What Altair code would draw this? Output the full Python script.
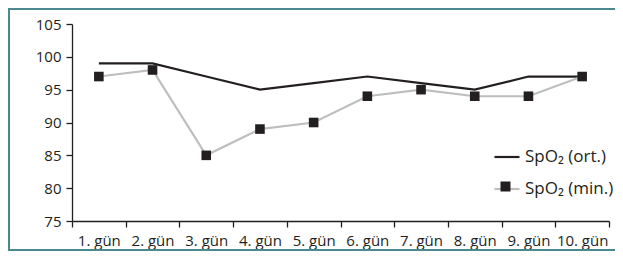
import altair as alt
import pandas as pd

days = ["1. gün", "2. gün", "3. gün", "4. gün", "5. gün",
        "6. gün", "7. gün", "8. gün", "9. gün", "10. gün"]
spo2_ort = [99, 99, 97, 95, 96, 97, 96, 95, 97, 97]
spo2_min = [97, 98, 85, 89, 90, 94, 95, 94, 94, 97]
series_names = ["SpO₂ (ort.)", "SpO₂ (min.)"]
y_ticks = [75, 80, 85, 90, 95, 100, 105]

rows = []
for d, v in zip(days, spo2_ort):
    rows.append({"day": d, "value": v, "series": series_names[0]})
for d, v in zip(days, spo2_min):
    rows.append({"day": d, "value": v, "series": series_names[1]})
df = pd.DataFrame(rows)
df["series_marker"] = df["series"]

FONT = "Open Sans"
DARK = "#231f20"
GREY = "#bcbec0"

x_enc = alt.X("day:N", sort=days, bandPosition=0.5,
              scale=alt.Scale(type="band", paddingInner=0, paddingOuter=0),
              axis=alt.Axis(title=None, tickBand="extent", labelAngle=0,
                            grid=False, tickSize=6, labelPadding=6,
                            domainColor=DARK, tickColor=DARK, domainWidth=1.3, tickWidth=1.3))
y_enc = alt.Y("value:Q", scale=alt.Scale(domain=[75, 105], nice=False, zero=False),
              axis=alt.Axis(title=None, values=y_ticks, grid=False, tickSize=6,
                            labelPadding=5, domainColor=DARK, tickColor=DARK,
                            domainWidth=1.3, tickWidth=1.3))

base = alt.Chart(df)

line_ort = base.transform_filter(alt.datum.series == series_names[0]).mark_line(
    strokeWidth=2.2, color=DARK).encode(x=x_enc, y=y_enc)
line_min = base.transform_filter(alt.datum.series == series_names[1]).mark_line(
    strokeWidth=2.2, color=GREY).encode(x=x_enc, y=y_enc)

squares = base.transform_filter(
    alt.datum.series == series_names[1]
).mark_point(shape="square", filled=True, color=DARK, size=92, opacity=1).encode(
    x=x_enc, y=y_enc,
)

LX, LY = 421, 119
common = dict(title=None, orient="none", legendX=LX, legendY=LY,
              symbolSize=625, symbolOpacity=1,
              labelFontSize=17, labelFont=FONT, labelColor=DARK,
              labelOffset=4, rowPadding=10)

# legend A: line strokes with labels
legend_lines = base.mark_point(filled=False, opacity=0).encode(
    x=x_enc, y=y_enc,
    stroke=alt.Stroke("series:N", scale=alt.Scale(domain=series_names, range=[DARK, GREY]),
                      legend=alt.Legend(symbolType="M-1,0H1", symbolStrokeWidth=2.2, **common)),
)

# legend B: square marker drawn over legend A (blank labels keep the row spacing)
legend_marks = base.mark_point(filled=True, opacity=0).encode(
    x=x_enc, y=y_enc,
    fill=alt.Fill("series_marker:N", sort=series_names,
                  scale=alt.Scale(range=["transparent", DARK]),
                  legend=alt.Legend(symbolType="M-0.4,-0.4H0.4V0.4H-0.4Z",
                                    symbolStrokeWidth=0, labelExpr="'\u00a0'", **common)),
)

frame = alt.Chart(alt.Data(values=[{"a": 1}])).mark_rect(
    fillOpacity=0, stroke="#4a8a8e", strokeWidth=2
).encode(
    x=alt.value(-63), x2=alt.value(600), y=alt.value(-15), y2=alt.value(226)
)

chart = alt.layer(frame, line_ort, line_min, squares, legend_lines, legend_marks).properties(
    width=537, height=197,
    autosize=alt.AutoSizeParams(type="none"),
    padding={"left": 64, "top": 16, "right": 6, "bottom": 30},
).configure_view(stroke=None).configure_axis(
    labelFont=FONT, labelFontSize=15, labelColor=DARK
)

chart.save("out.html", embed_options={"renderer": "svg", "actions": False})
